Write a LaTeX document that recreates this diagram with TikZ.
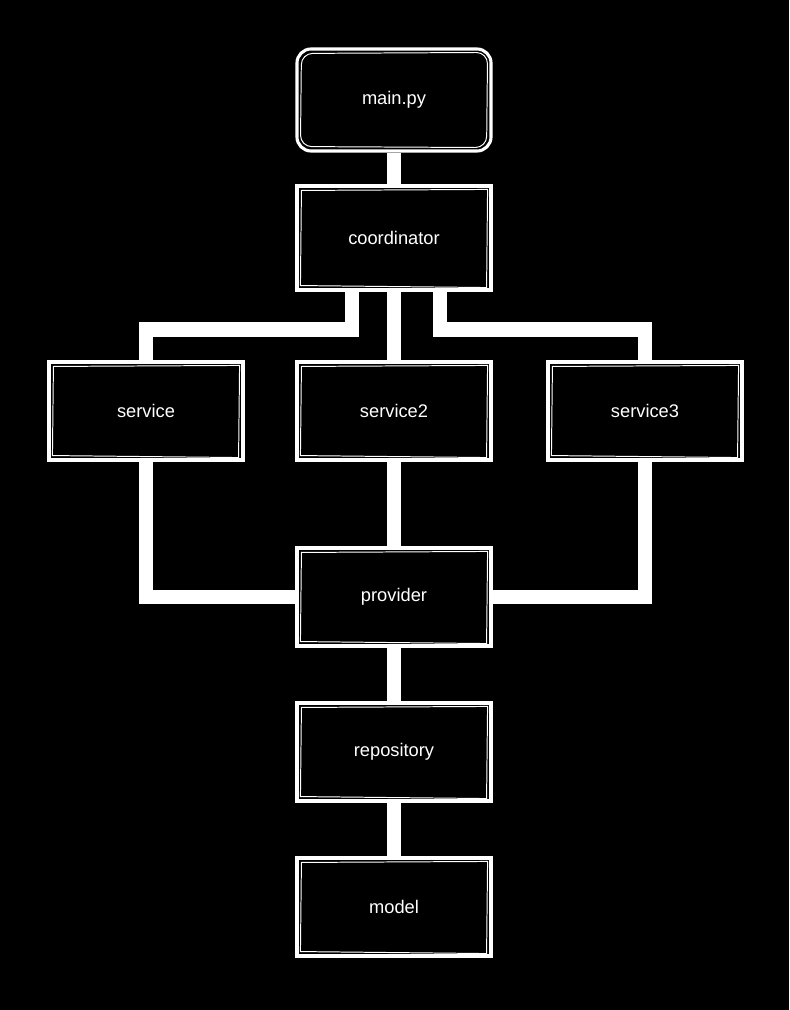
\documentclass[tikz,border=0pt]{standalone}
\usepackage{fontspec}
\setmainfont{Liberation Sans}
\usetikzlibrary{calc,backgrounds}

\tikzset{
    comp/.style={draw=white, line width=2.2pt, fill=black, text=white,
        minimum width=4.85cm, minimum height=2.45cm, inner sep=0pt,
        font=\fontsize{13}{15}\selectfont},
    wire/.style={draw=white, line width=10.5pt}
}

\begin{document}
\begin{tikzpicture}[x=0.025cm, y=-0.025cm]
    % Page size
    \useasboundingbox (0,0) rectangle (789,1010);

    % Components
    \node[comp, rounded corners=10pt, minimum height=2.55cm] (main) at (394,100) {main.py};
    \node[comp, minimum height=2.6cm] (coord) at (394,238) {coordinator};
    \node[comp] (svc) at (146,411) {service};
    \node[comp] (svctwo) at (394,411) {service2};
    \node[comp] (svcthree) at (645,411) {service3};
    \node[comp] (prov) at (394,597) {provider};
    \node[comp] (repo) at (394,752) {repository};
    \node[comp] (model) at (394,907) {model};

    % Branch points under coordinator
    \coordinate (cl) at (352,292);
    \coordinate (cr) at (440,292);

    % Wires, behind the boxes
    \begin{scope}[on background layer]
        \fill[black] (0,0) rectangle (789,1010);
        \draw[wire] (main.south) -- (coord.north);
        \draw[wire] (coord.south) -- (svctwo.north);
        \draw[wire] (cl |- coord.south) -- ++(0,38) -| (svc.north);
        \draw[wire] (cr |- coord.south) -- ++(0,38) -| (svcthree.north);
        \draw[wire] (svc.south) |- (prov.west);
        \draw[wire] (svcthree.south) |- (prov.east);
        \draw[wire] (svctwo.south) -- (prov.north);
        \draw[wire] (prov.south) -- (repo.north);
        \draw[wire] (repo.south) -- (model.north);
    \end{scope}

    % Sketchy second stroke inside each box
    \foreach \n in {coord, svc, svctwo, svcthree, prov, repo, model} {
        \draw[white, line width=0.7pt]
            ($(\n.north west)+(6,6)$) -- ($(\n.north east)+(-5,5)$)
            -- ($(\n.south east)+(-6,-4)$) -- ($(\n.south west)+(5,-6)$) -- cycle;
    }
    \draw[white, line width=0.7pt, rounded corners=8pt]
        ($(main.north west)+(6,6)$) -- ($(main.north east)+(-5,5)$)
        -- ($(main.south east)+(-6,-5)$) -- ($(main.south west)+(5,-6)$) -- cycle;
\end{tikzpicture}
\end{document}
